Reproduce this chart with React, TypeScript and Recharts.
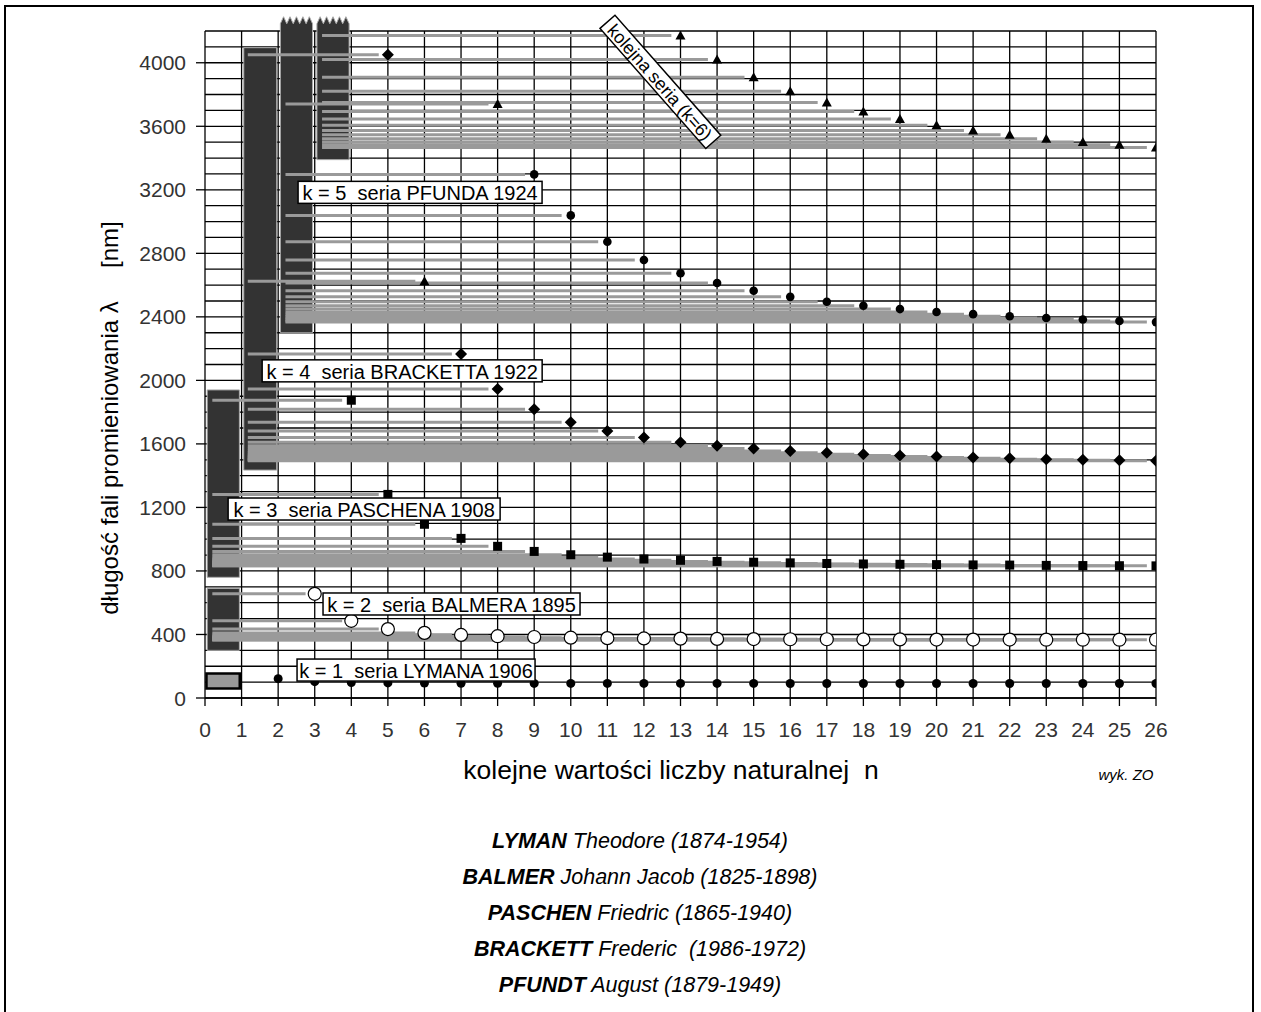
import React from "react";
import {
  ScatterChart,
  Scatter,
  XAxis,
  YAxis,
  CartesianGrid,
  ReferenceArea,
  ReferenceLine,
  ReferenceDot,
} from "recharts";

const FONT = "'Liberation Sans', Arial, sans-serif";

// axes
const xTicks = [0, 1, 2, 3, 4, 5, 6, 7, 8, 9, 10, 11, 12, 13, 14, 15, 16, 17, 18, 19, 20, 21, 22, 23, 24, 25, 26];
const yLabelTicks = [0, 400, 800, 1200, 1600, 2000, 2400, 2800, 3200, 3600, 4000];
const yMax = 4200;
const yGridStep = 100;
const yGridTicks = Array.from({ length: yMax / yGridStep + 1 }, (_, i) => i * yGridStep);

// k = 1 seria Lymana
const nLyman = [2, 3, 4, 5, 6, 7, 8, 9, 10, 11, 12, 13, 14, 15, 16, 17, 18, 19, 20, 21, 22, 23, 24, 25, 26];
const lamLyman = [122, 103, 97, 95, 94, 93, 93, 92, 92, 92, 92, 92, 92, 92, 91, 91, 91, 91, 91, 91, 91, 91, 91, 91, 91];

// k = 2 seria Balmera
const nBalmer = [3, 4, 5, 6, 7, 8, 9, 10, 11, 12, 13, 14, 15, 16, 17, 18, 19, 20, 21, 22, 23, 24, 25, 26];
const lamBalmer = [656, 486, 434, 410, 397, 389, 384, 380, 377, 375, 374, 372, 371, 370, 370, 369, 369, 368, 368, 368, 367, 367, 367, 367];

// k = 3 seria Paschena
const nPaschen = [4, 5, 6, 7, 8, 9, 10, 11, 12, 13, 14, 15, 16, 17, 18, 19, 20, 21, 22, 23, 24, 25, 26];
const lamPaschen = [1875, 1282, 1094, 1005, 955, 923, 902, 887, 875, 867, 860, 855, 851, 847, 844, 842, 840, 838, 837, 835, 834, 833, 832];

// k = 4 seria Bracketta
const nBrackett = [5, 6, 7, 8, 9, 10, 11, 12, 13, 14, 15, 16, 17, 18, 19, 20, 21, 22, 23, 24, 25, 26];
const lamBrackett = [4051, 2625, 2166, 1945, 1818, 1736, 1681, 1641, 1611, 1589, 1571, 1556, 1544, 1535, 1527, 1520, 1514, 1509, 1504, 1501, 1497, 1494];

// k = 5 seria Pfunda (n = 6, 7 poza wykresem)
const nPfund = [8, 9, 10, 11, 12, 13, 14, 15, 16, 17, 18, 19, 20, 21, 22, 23, 24, 25, 26];
const lamPfund = [3741, 3297, 3039, 2873, 2758, 2675, 2613, 2564, 2526, 2495, 2470, 2449, 2431, 2417, 2404, 2393, 2383, 2374, 2367];

// k = 6 kolejna seria
const nK6 = [13, 14, 15, 16, 17, 18, 19, 20, 21, 22, 23, 24, 25, 26];
const lamK6 = [4171, 4021, 3908, 3820, 3749, 3693, 3646, 3607, 3574, 3546, 3522, 3501, 3483, 3467];

const zip = (ns: number[], ls: number[]) => ns.map((n, i) => ({ n, lam: ls[i] }));

const series = [
  { k: 1, data: zip(nLyman, lamLyman), marker: "dot", lineFrom: null as number | null },
  { k: 2, data: zip(nBalmer, lamBalmer), marker: "ring", lineFrom: 0.2 },
  { k: 3, data: zip(nPaschen, lamPaschen), marker: "square", lineFrom: 0.2 },
  { k: 4, data: zip(nBrackett, lamBrackett), marker: "diamond", lineFrom: 1.17 },
  { k: 5, data: zip(nPfund, lamPfund), marker: "smalldot", lineFrom: 2.2 },
  { k: 6, data: zip(nK6, lamK6), marker: "triangle", lineFrom: 3.2 },
];

// points the original draws with a triangle instead of the series marker
const triangleAt = [
  { k: 4, n: 6 },
  { k: 5, n: 8 },
];

// dark columns holding the spectral lines of each series
const columns = [
  { x1: 0.04, x2: 0.95, y1: 60, y2: 155, fill: "#999", stroke: "#000", sw: 2.5, zig: false },
  { x1: 0.06, x2: 0.94, y1: 300, y2: 690, fill: "#333", stroke: "#aaa", sw: 1, zig: false },
  { x1: 0.06, x2: 0.94, y1: 760, y2: 1940, fill: "#333", stroke: "#aaa", sw: 1, zig: false },
  { x1: 1.06, x2: 1.96, y1: 1435, y2: 4095, fill: "#333", stroke: "#aaa", sw: 1, zig: false },
  { x1: 2.06, x2: 2.94, y1: 2300, y2: 4290, fill: "#333", stroke: "#aaa", sw: 1, zig: true },
  { x1: 3.06, x2: 3.94, y1: 3390, y2: 4290, fill: "#333", stroke: "#aaa", sw: 1, zig: true },
];

const seriesLabels = [
  { text: "k = 1  seria LYMANA 1906", x: 5.77, y: 176, w: 238, h: 22, angle: 0, size: 20 },
  { text: "k = 2  seria BALMERA 1895", x: 6.74, y: 592, w: 257, h: 22, angle: 0, size: 20 },
  { text: "k = 3  seria PASCHENA 1908", x: 4.35, y: 1190, w: 272, h: 22, angle: 0, size: 20 },
  { text: "k = 4  seria BRACKETTA 1922", x: 5.39, y: 2060, w: 280, h: 22, angle: 0, size: 20 },
  { text: "k = 5  seria PFUNDA 1924", x: 5.88, y: 3184, w: 244, h: 22, angle: 0, size: 20 },
  { text: "kolejna seria (k=6)", x: 12.45, y: 3880, w: 160, h: 20, angle: 48.6, size: 18 },
];

const bottomNames = ["LYMAN", "BALMER", "PASCHEN", "BRACKETT", "PFUNDT"];
const bottomRest = [
  " Theodore (1874-1954)",
  " Johann Jacob (1825-1898)",
  " Friedric (1865-1940)",
  " Frederic  (1986-1972)",
  " August (1879-1949)",
];
const bottomY = [842, 878, 914, 950, 986];

const grayLines = series
  .filter((s) => s.lineFrom !== null)
  .flatMap((s) => s.data.map((p) => ({ x1: s.lineFrom as number, x2: p.n - 0.25, y: p.lam })));

function Marker({ kind, cx, cy }: { kind: string; cx: number; cy: number }) {
  if (cx == null || cy == null) return null;
  switch (kind) {
    case "dot":
      return <circle cx={cx} cy={cy} r={4.5} fill="#000" />;
    case "ring":
      return <circle cx={cx} cy={cy} r={6.5} fill="#fff" stroke="#000" strokeWidth={1.2} />;
    case "square":
      return <rect x={cx - 4.5} y={cy - 4.5} width={9} height={9} fill="#000" />;
    case "diamond":
      return <polygon points={`${cx},${cy - 6} ${cx + 6},${cy} ${cx},${cy + 6} ${cx - 6},${cy}`} fill="#000" />;
    case "smalldot":
      return <circle cx={cx} cy={cy} r={4.3} fill="#000" />;
    default:
      return <polygon points={`${cx},${cy - 5} ${cx + 5},${cy + 4} ${cx - 5},${cy + 4}`} fill="#000" />;
  }
}

function ZigColumn(props: any) {
  const { x, y, width, height, fill, stroke, sw } = props;
  const teeth = 5;
  const step = width / teeth;
  let d = `M${x},${y + height} L${x},${y + 7}`;
  for (let i = 0; i < teeth; i++) {
    d += ` L${x + step * (i + 0.5)},${y} L${x + step * (i + 1)},${y + 7}`;
  }
  d += ` L${x + width},${y + height} Z`;
  return <path d={d} fill={fill} stroke={stroke} strokeWidth={sw} />;
}

function YTick(props: any) {
  const { x, y, payload } = props;
  const v = payload.value;
  if (!yLabelTicks.includes(v)) return <g />;
  return (
    <g>
      <line x1={x + 10} x2={x + 19} y1={y} y2={y} stroke="#000" strokeWidth={1.3} />
      <text x={x} y={y} textAnchor="end" dominantBaseline="central" fontSize={21} fill="#333" fontFamily={FONT}>
        {v}
      </text>
    </g>
  );
}

function LabelBox(props: any) {
  const { cx, cy, item } = props;
  if (cx == null || cy == null) return null;
  return (
    <g transform={`rotate(${item.angle} ${cx} ${cy})`}>
      <rect x={cx - item.w / 2} y={cy - item.h / 2} width={item.w} height={item.h} fill="#fff" stroke="#000" strokeWidth={1.5} />
      <text
        x={cx}
        y={cy + 1}
        textAnchor="middle"
        dominantBaseline="central"
        fontSize={item.size}
        fontFamily={FONT}
        fill="#000"
        style={{ whiteSpace: "pre" }}
      >
        {item.text}
      </text>
    </g>
  );
}

export default function App() {
  return (
    <div style={{ position: "absolute", left: 0, top: 0, width: 1261, height: 1012, background: "#fff", fontFamily: FONT }}>
      <div
        style={{
          position: "absolute",
          left: 4,
          top: 5,
          width: 1246,
          height: 1020,
          borderLeft: "2.5px solid #000",
          borderTop: "2.5px solid #000",
          borderRight: "2.5px solid #000",
        }}
      />
      <div style={{ position: "absolute", left: 0, top: 0 }}>
        <ScatterChart width={1261} height={740} margin={{ top: 31, right: 105, bottom: 12, left: 125 }}>
          <CartesianGrid stroke="#000" strokeWidth={1.3} />
          <XAxis
            type="number"
            dataKey="n"
            domain={[0, 26]}
            ticks={xTicks}
            interval={0}
            height={30}
            tickSize={8}
            tickMargin={16}
            allowDataOverflow
            tickLine={{ stroke: "#000", strokeWidth: 1.3 }}
            axisLine={{ stroke: "#000", strokeWidth: 1.3 }}
            tick={{ fontSize: 21, fill: "#333", fontFamily: FONT }}
          />
          <YAxis
            type="number"
            dataKey="lam"
            domain={[0, yMax]}
            ticks={yGridTicks}
            interval={0}
            width={80}
            tickSize={9}
            tickMargin={10}
            allowDataOverflow
            tickLine={false}
            axisLine={false}
            tick={(p: any) => <YTick {...p} />}
          />
          {columns.map((c, i) => (
            <ReferenceArea
              key={`col-${i}`}
              x1={c.x1}
              x2={c.x2}
              y1={c.y1}
              y2={c.y2}
              ifOverflow="visible"
              fill={c.fill}
              fillOpacity={1}
              stroke={c.stroke}
              strokeWidth={c.sw}
              shape={
                c.zig
                  ? (p: any) => <ZigColumn {...p} fill={c.fill} stroke={c.stroke} sw={c.sw} />
                  : undefined
              }
            />
          ))}
          {grayLines.map((l, i) => (
            <ReferenceLine
              key={`gl-${i}`}
              segment={[
                { x: l.x1, y: l.y },
                { x: l.x2, y: l.y },
              ]}
              stroke="#9a9a9a"
              strokeWidth={3}
            />
          ))}
          {series.map((s) => (
            <Scatter
              key={`s-${s.k}`}
              data={s.data}
              isAnimationActive={false}
              shape={(p: any) => {
                const odd = triangleAt.some((t) => t.k === s.k && t.n === p.payload?.n);
                return <Marker kind={odd ? "triangle" : s.marker} cx={p.cx} cy={p.cy} />;
              }}
            />
          ))}
          {seriesLabels.map((item, i) => (
            <ReferenceDot
              key={`lab-${i}`}
              x={item.x}
              y={item.y}
              zIndex={2000}
              shape={(p: any) => <LabelBox {...p} item={item} />}
            />
          ))}
        </ScatterChart>
      </div>

      <div
        style={{
          position: "absolute",
          left: 110,
          top: 418,
          transform: "translate(-50%, -50%) rotate(-90deg)",
          whiteSpace: "pre",
          fontSize: 24,
          lineHeight: 1,
          color: "#000",
        }}
      >
        {"długość fali promieniowania λ     [nm]"}
      </div>
      <div
        style={{
          position: "absolute",
          left: 671,
          top: 770,
          transform: "translate(-50%, -50%)",
          whiteSpace: "pre",
          fontSize: 26.5,
          lineHeight: 1,
        }}
      >
        {"kolejne wartości liczby naturalnej  n"}
      </div>
      <div
        style={{
          position: "absolute",
          left: 1126,
          top: 774,
          transform: "translate(-50%, -50%)",
          fontSize: 15,
          fontStyle: "italic",
          lineHeight: 1,
        }}
      >
        wyk. ZO
      </div>
      {bottomNames.map((name, i) => (
        <div
          key={name}
          style={{
            position: "absolute",
            left: 640,
            top: bottomY[i],
            transform: "translate(-50%, -50%)",
            whiteSpace: "pre",
            fontSize: 21.5,
            fontStyle: "italic",
            lineHeight: 1,
          }}
        >
          <b>{name}</b>
          {bottomRest[i]}
        </div>
      ))}
    </div>
  );
}
